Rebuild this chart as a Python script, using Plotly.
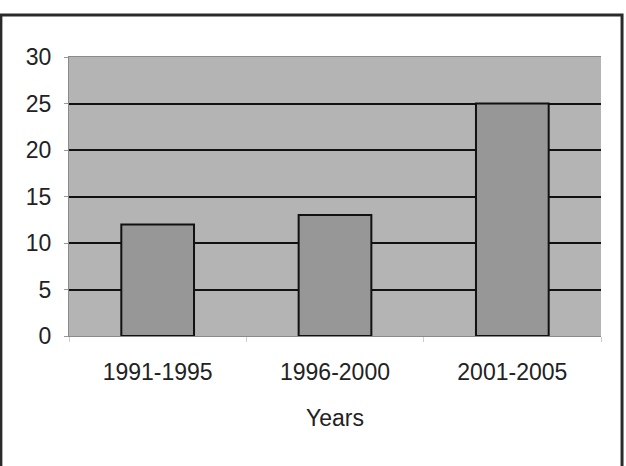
import plotly.graph_objects as go

categories = ["1991-1995", "1996-2000", "2001-2005"]
values = [12, 13, 25]
y_ticks = [0, 5, 10, 15, 20, 25, 30]
grid_ticks = [5, 10, 15, 20, 25]

FONT = "Liberation Sans, Arial, sans-serif"

fig = go.Figure()
fig.add_trace(go.Bar(
    x=categories, y=values, width=0.41,
    marker=dict(color="#979797", line=dict(color="#111111", width=2)),
    showlegend=False,
))
# invisible trace to own the overlay axis used for black gridlines
fig.add_trace(go.Scatter(x=categories, y=[None]*3, yaxis="y2", showlegend=False,
                         hoverinfo="skip"))

fig.update_layout(
    width=626, height=466,
    margin=dict(l=69, r=25, t=57, b=130),
    paper_bgcolor="white",
    plot_bgcolor="#b4b4b4",
    font=dict(family=FONT, size=22, color="#222222"),
    bargap=0.59,
    xaxis=dict(
        type="category",
        showgrid=False, zeroline=False,
        showline=True, linecolor="#8a8a8a", linewidth=1, mirror=True,
        ticks="outside", ticklen=5, tickcolor="#cccccc", tickson="boundaries",
        ticklabelstandoff=15,
        tickfont=dict(size=23, color="#222222"),
        title=dict(text="Years", standoff=26, font=dict(size=23, color="#222222")),
    ),
    yaxis=dict(
        range=[0, 30], tickmode="array", tickvals=y_ticks,
        showgrid=False, zeroline=False,
        showline=True, linecolor="#8a8a8a", linewidth=1,
        ticks="outside", ticklen=4, tickcolor="#999999",
        ticklabelstandoff=8,
        tickfont=dict(size=23, color="#222222"),
    ),
    yaxis2=dict(
        overlaying="y", range=[0, 30], tickmode="array", tickvals=grid_ticks,
        showgrid=True, gridcolor="#111111", gridwidth=2,
        showticklabels=False, zeroline=False, showline=False, ticks="",
    ),
)

# outer chart frame
fig.add_shape(type="rect", xref="paper", yref="paper",
              x0=-68/531, x1=552/531, y0=-0.6, y1=(336-15)/279,
              line=dict(color="#2a2a2a", width=3), fillcolor="rgba(0,0,0,0)",
              layer="above")

fig.write_html("out.html")
